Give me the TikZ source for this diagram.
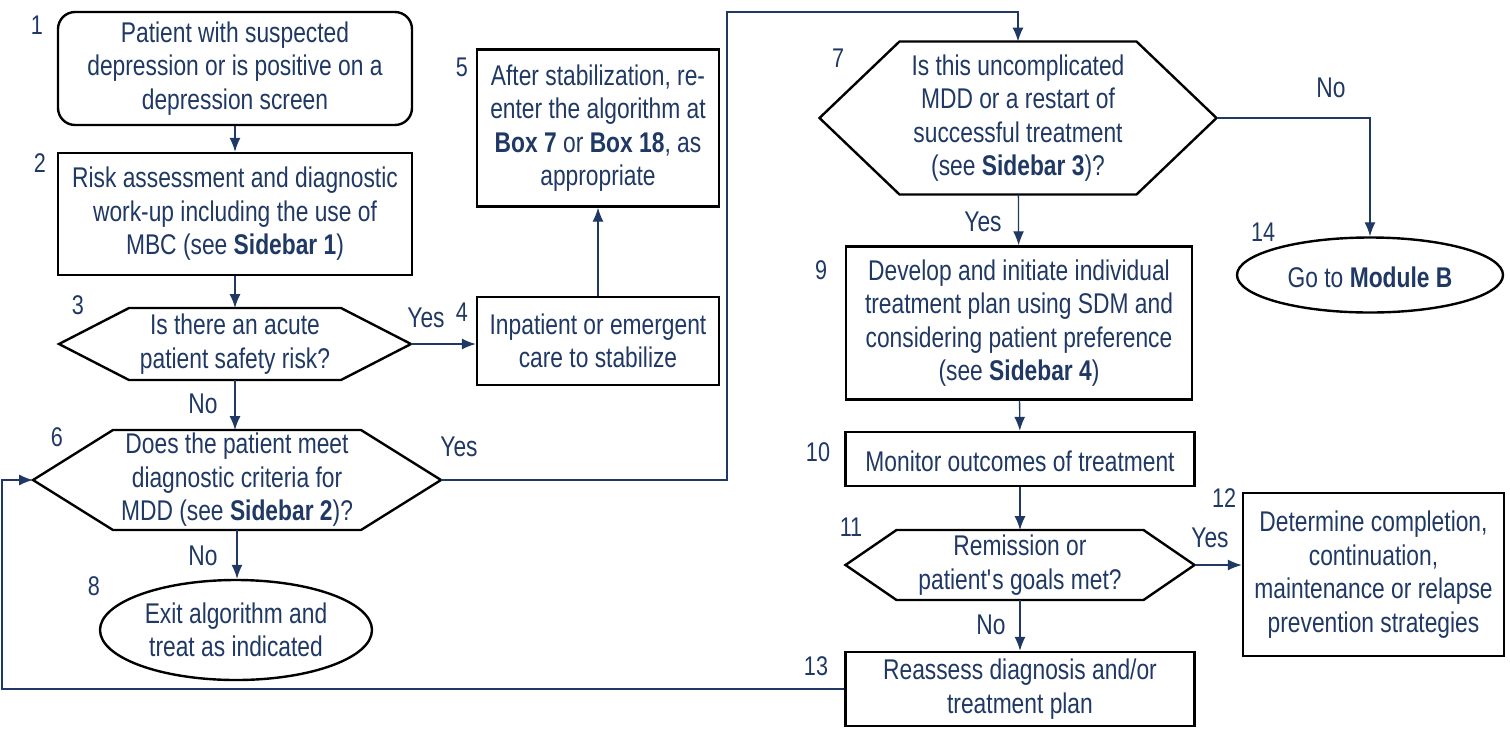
\documentclass[tikz,border=0pt]{standalone}
\usepackage{fontspec}
\setmainfont{Liberation Sans}[FakeStretch=0.8]
\usetikzlibrary{positioning,arrows.meta,shapes.geometric}
\definecolor{algoBlue}{RGB}{31,56,100}
\tikzstyle{chart} = [x = 1pt, y = -1pt, every node/.style={text=algoBlue, font=\fontsize{28.5}{33.5}\selectfont}]
\tikzstyle{boxLine} = [draw=black, line width=2.4pt]
\tikzstyle{boxText} = [align=center, inner sep=0pt, execute at begin node={\rule{0pt}{26pt}}]
\tikzstyle{stepBox} = [boxLine, boxText, rectangle]
\tikzstyle{startBox} = [stepBox, rounded corners=.6cm]
\tikzstyle{exitOval} = [boxLine, boxText, ellipse]
\tikzstyle{hexText} = [boxText, rectangle, outer sep=0pt]
\tikzstyle{flowLine} = [draw=algoBlue, line width=1.3pt]
\tikzstyle{flowArrow} = [flowLine, -{Latex[length=14pt,width=11pt]}]
\tikzstyle{boxNumber} = [font=\fontsize{27}{30}\selectfont]
\newcommand{\hexBox}[2]{\draw [boxLine] (#1.west) -- ([xshift=#2pt]#1.north west) -- ([xshift=-#2pt]#1.north east) -- (#1.east) -- ([xshift=-#2pt]#1.south east) -- ([xshift=#2pt]#1.south west) -- cycle;}
\begin{document}
\begin{tikzpicture}[chart]
        \useasboundingbox (0,0) rectangle (1510,732);

        % left column
        \node [startBox, minimum width=354pt, minimum height=113pt] (n1) at (235,68.5) {Patient with suspected\\depression or is positive on a\\depression screen};
        \node [stepBox, minimum width=354pt, minimum height=122pt] (n2) at (235,214) {Risk assessment and diagnostic\\work-up including the use of\\MBC (see \textbf{Sidebar 1})};
        \node [hexText, minimum width=352pt, minimum height=72pt] (n3) at (235,344) {Is there an acute\\patient safety risk?};
        \hexBox{n3}{70}
        \node [stepBox, minimum width=242pt, minimum height=88pt] (n4) at (598,341) {Inpatient or emergent\\care to stabilize};
        \node [stepBox, minimum width=242pt, minimum height=157pt] (n5) at (598,128) {After stabilization, re-\\enter the algorithm at\\\textbf{Box 7} or \textbf{Box 18}, as\\appropriate};
        \node [hexText, minimum width=408pt, minimum height=100pt] (n6) at (237,480) {Does the patient meet\\diagnostic criteria for\\MDD (see \textbf{Sidebar 2})?};
        \hexBox{n6}{80}
        \node [exitOval, minimum width=272pt, minimum height=100pt] (n8) at (236,630) {Exit algorithm and\\treat as indicated};

        % right column
        \node [hexText, minimum width=397pt, minimum height=153pt] (n7) at (1018,118) {Is this uncomplicated\\MDD or a restart of\\successful treatment\\(see \textbf{Sidebar 3})?};
        \hexBox{n7}{80}
        \node [exitOval, minimum width=266pt, minimum height=75pt] (n14) at (1370,275) {Go to \textbf{Module B}};
        \node [stepBox, minimum width=346pt, minimum height=153pt] (n9) at (1019,323) {Develop and initiate individual\\treatment plan using SDM and\\considering patient preference\\(see \textbf{Sidebar 4})};
        \node [stepBox, minimum width=349pt, minimum height=54pt] (n10) at (1020,459) {Monitor outcomes of treatment};
        \node [hexText, minimum width=349pt, minimum height=70pt] (n11) at (1020,565) {Remission or\\patient\textquotesingle s goals met?};
        \hexBox{n11}{51}
        \node [stepBox, minimum width=261pt, minimum height=163pt] (n12) at (1373.5,574.5) {Determine completion,\\continuation,\\maintenance or relapse\\prevention strategies};
        \node [stepBox, minimum width=349pt, minimum height=74pt] (n13) at (1020,689) {Reassess diagnosis and/or\\treatment plan};

        % box numbers
        \node [boxNumber] (num1) at (37,25) {1};
        \node [boxNumber] (num2) at (40,163) {2};
        \node [boxNumber] (num3) at (78,305) {3};
        \node [boxNumber] (num4) at (462,312) {4};
        \node [boxNumber] (num5) at (462,67) {5};
        \node [boxNumber] (num6) at (57,437) {6};
        \node [boxNumber] (num7) at (838,58) {7};
        \node [boxNumber] (num8) at (94,586) {8};
        \node [boxNumber] (num9) at (821,270) {9};
        \node [boxNumber] (num10) at (818,452) {10};
        \node [boxNumber] (num11) at (851,527) {11};
        \node [boxNumber] (num12) at (1224,498) {12};
        \node [boxNumber] (num13) at (816,666) {13};
        \node [boxNumber] (num14) at (1263,232) {14};

        % answers
        \node (yes3) at (426,318) {Yes};
        \node (no3) at (203,404) {No};
        \node (yes6) at (459,447) {Yes};
        \node (no6) at (203,556) {No};
        \node (yes7) at (983,222) {Yes};
        \node (no7) at (1331,88) {No};
        \node (yes11) at (1210,538) {Yes};
        \node (no11) at (991,625) {No};

        % connectors
        \coordinate (topRun) at (727,12);
        \coordinate (loopRun) at (2,689);
        \draw [flowArrow] (n1) -- (n2);
        \draw [flowArrow] (n2) -- (n3);
        \draw [flowArrow] (n3.east) -- (n3.east -| n4.west);
        \draw [flowArrow] (n3.south) -- (n3.south |- n6.north);
        \draw [flowArrow] (n4) -- (n5);
        \draw [flowArrow] (n6.east) -| (topRun) -| (n7.north);
        \draw [flowArrow] (n6.south) -- (n6.south |- n8.north);
        \draw [flowArrow] (n7) -- (n9);
        \draw [flowArrow] (n7.east) -| (n14.north);
        \draw [flowArrow] (n9) -- (n10);
        \draw [flowArrow] (n10) -- (n11);
        \draw [flowArrow] (n11.east) -- (n11.east -| n12.west);
        \draw [flowArrow] (n11) -- (n13);
        \draw [flowArrow] (n13.west) -- (loopRun) |- (n6.west);
      \end{tikzpicture}
\end{document}
